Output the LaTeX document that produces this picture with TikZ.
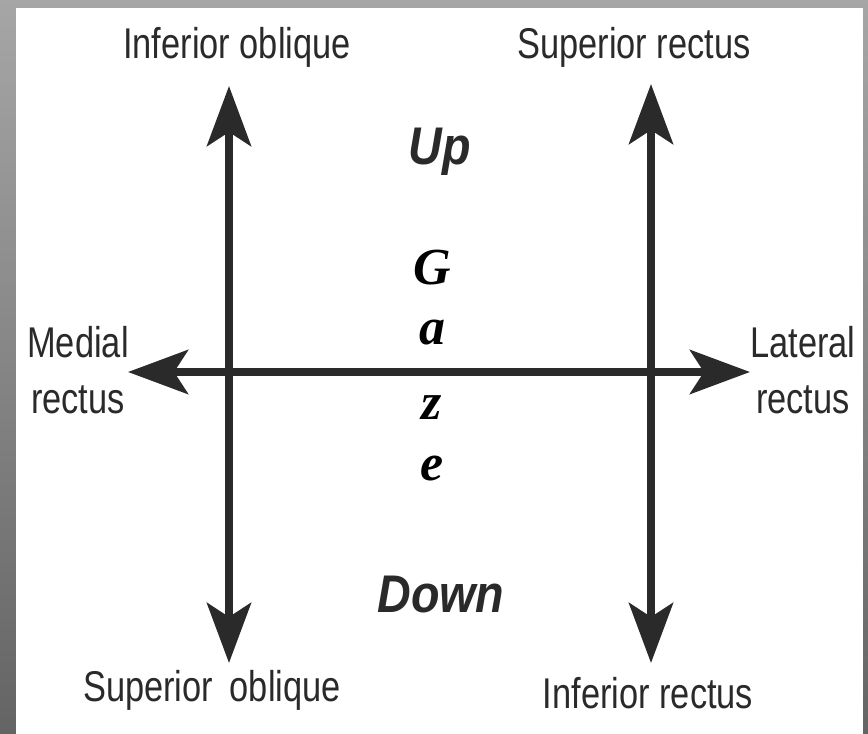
\documentclass[tikz,border=0pt]{standalone}
\usepackage{fontspec}
\setmainfont{Liberation Sans}
\newfontfamily\labelfont[FakeStretch=0.8]{Liberation Sans}
\newfontfamily\dirfont[FakeStretch=0.88]{Liberation Sans}
\newfontfamily\gazefont{Liberation Serif}
\usetikzlibrary{arrows.meta}
\definecolor{ink}{HTML}{2A2A2A}
\definecolor{frametop}{HTML}{A6A6A6}
\definecolor{framebot}{HTML}{646464}
\begin{document}
\begin{tikzpicture}[x=1pt,y=-1pt,
  lbl/.style={font=\labelfont\fontsize{43}{56}\selectfont, text=ink, inner sep=0pt, align=center},
  dirlbl/.style={font=\dirfont\bfseries\itshape\fontsize{53}{56}\selectfont, text=ink, inner sep=0pt},
  gz/.style={font=\gazefont\bfseries\itshape\fontsize{52}{56}\selectfont, text=black, inner sep=0pt},
  axis/.style={line width=8pt, draw=ink, {Stealth[length=60pt,width=44pt,inset=14pt]}-{Stealth[length=60pt,width=44pt,inset=14pt]}}]
% frame and page
\shade[top color=frametop, bottom color=framebot] (0,0) rectangle (868,734);
\fill[white] (16,8) rectangle (863,734);
\useasboundingbox (0,0) rectangle (868,734);
% arrow end points
\coordinate (lt) at (229,86);
\coordinate (lb) at (229,663);
\coordinate (rt) at (651,84);
\coordinate (rb) at (651,663);
\coordinate (hl) at (128,372);
\coordinate (hr) at (750,372);
% axes
\draw[axis] (lb) -- (lt);
\draw[axis] (rb) -- (rt);
\draw[axis] (hl) -- (hr);
% muscle labels
\node[lbl] (io) at (237,47) {Inferior oblique};
\node[lbl] (sr) at (634,47) {Superior rectus};
\node[lbl] (mr) at (78,370) {Medial\\rectus};
\node[lbl] (lr) at (803,370) {Lateral\\rectus};
\node[lbl] (so) at (212,690) {Superior\, oblique};
\node[lbl] (ir) at (648,693) {Inferior rectus};
% direction labels
\node[dirlbl] (up) at (440,152) {Up};
\node[dirlbl] (down) at (441,595) {Down};
\node[gz] (g1) at (432,268) {G};
\node[gz] (g2) at (432,333) {a};
\node[gz] (g3) at (432,408) {z};
\node[gz] (g4) at (432,468) {e};
\end{tikzpicture}
\end{document}
